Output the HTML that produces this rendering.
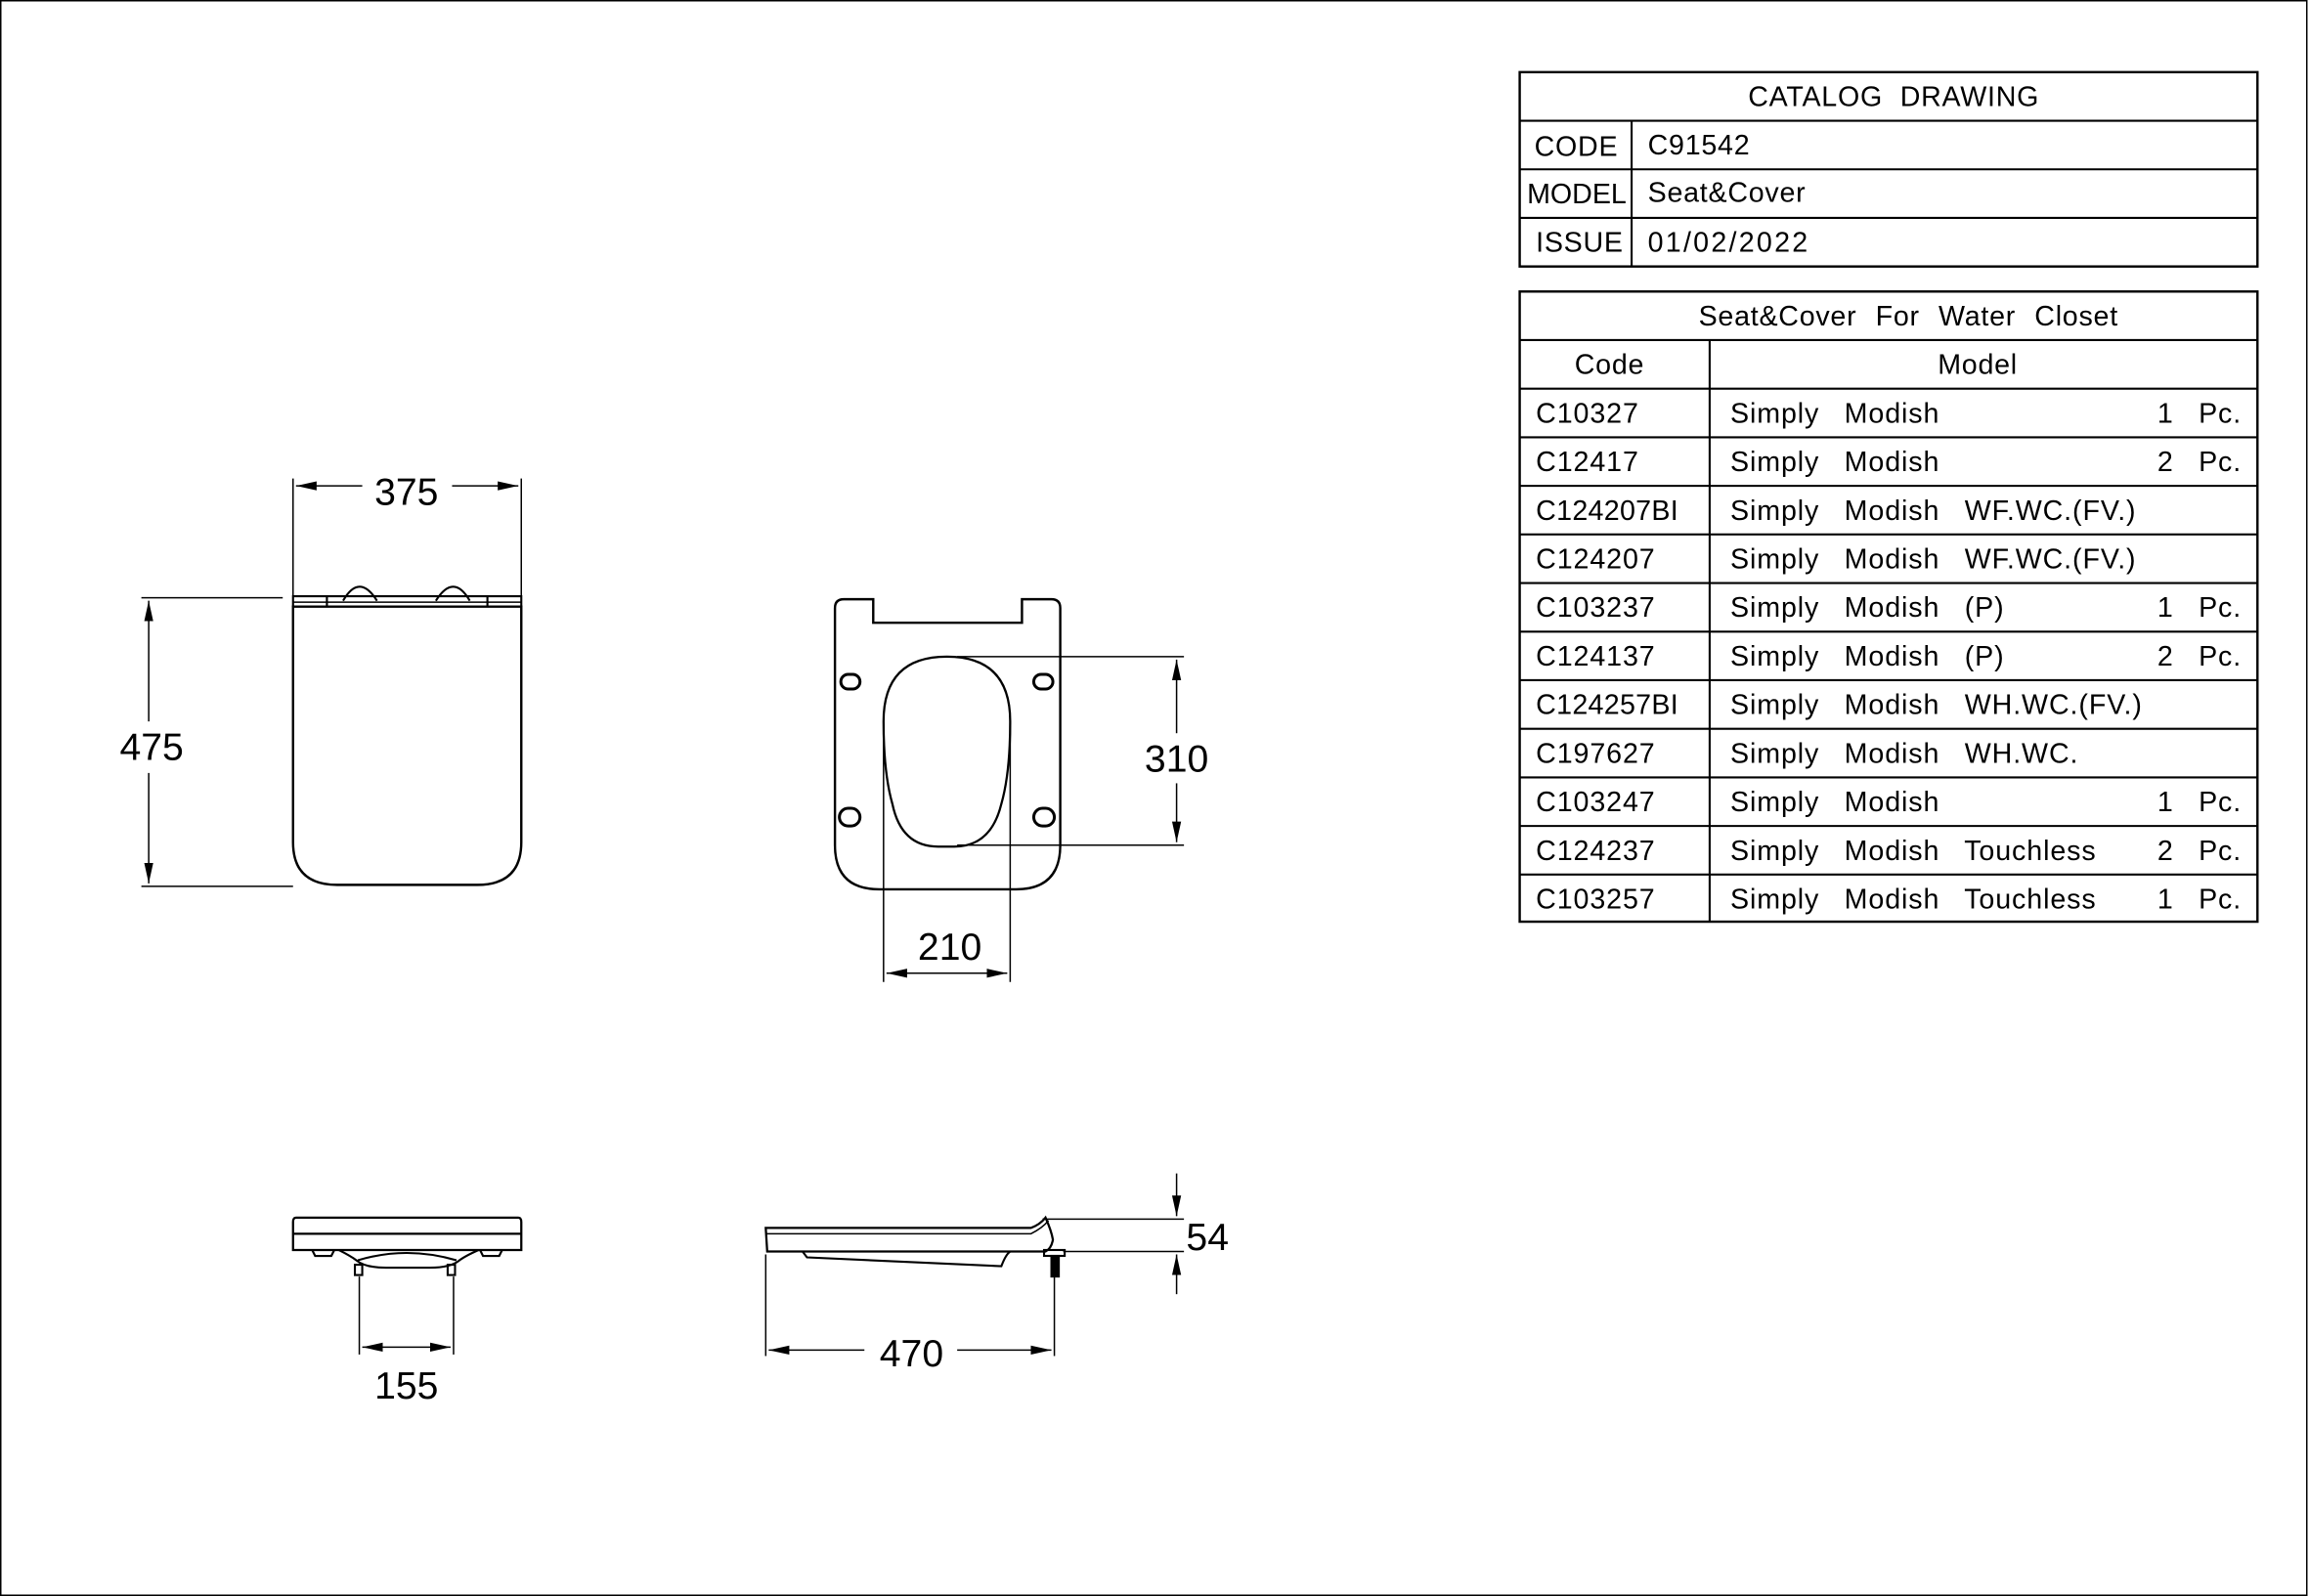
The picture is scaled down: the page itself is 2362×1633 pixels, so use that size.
<!DOCTYPE html>
<html><head><meta charset="utf-8"><style>
html,body{margin:0;padding:0;background:#fff}
svg{display:block}
text{font-family:"Liberation Sans",sans-serif;fill:#000}
</style></head><body>
<svg width="2362" height="1633" viewBox="0 0 1568 1084" preserveAspectRatio="none" xmlns="http://www.w3.org/2000/svg">
<defs>
<marker id="a" viewBox="0 0 10 10" refX="10" refY="5" markerWidth="14" markerHeight="14" markerUnits="userSpaceOnUse" orient="auto-start-reverse"><path d="M0,2.8 L10,5 L0,7.2 z" fill="#000"/></marker>
</defs>
<rect x="0.5" y="0.5" width="1566" height="1083" fill="none" stroke="#000" stroke-width="1"/>
<g stroke="#000" fill="none" stroke-width="1.4">
<rect x="1032" y="49" width="501" height="132" stroke-width="1.6"/>
<line x1="1032" y1="82" x2="1533" y2="82"/><line x1="1032" y1="115" x2="1533" y2="115"/><line x1="1032" y1="148" x2="1533" y2="148"/>
<line x1="1108" y1="82" x2="1108" y2="181"/>
<rect x="1032" y="198" width="501" height="428" stroke-width="1.6"/>
<line x1="1032" y1="231" x2="1533" y2="231"/><line x1="1032" y1="264" x2="1533" y2="264"/><line x1="1032" y1="297" x2="1533" y2="297"/>
<line x1="1032" y1="330" x2="1533" y2="330"/><line x1="1032" y1="363" x2="1533" y2="363"/><line x1="1032" y1="396" x2="1533" y2="396"/>
<line x1="1032" y1="429" x2="1533" y2="429"/><line x1="1032" y1="462" x2="1533" y2="462"/><line x1="1032" y1="495" x2="1533" y2="495"/>
<line x1="1032" y1="528" x2="1533" y2="528"/><line x1="1032" y1="561" x2="1533" y2="561"/><line x1="1032" y1="594" x2="1533" y2="594"/>
<line x1="1161" y1="231" x2="1161" y2="626"/>

<path d="M199,412 L199,572 Q199,601 229,601 L324,601 Q354,601 354,572 L354,412 Z" stroke-width="1.6"/>
<path d="M199,412 L199,405 L354,405 L354,412"/>
<path d="M199,409 L354,409" stroke-width="1"/>
<path d="M233,408 Q244,389 256,408 M296,408 Q308,389 319,408"/>
<path d="M222,405 L222,412 M331,405 L331,412"/>
<line x1="199" y1="325" x2="199" y2="405" stroke-width="1"/>
<line x1="354" y1="325" x2="354" y2="405" stroke-width="1"/>
<line x1="201" y1="330" x2="246" y2="330" marker-start="url(#a)" stroke-width="1"/>
<line x1="307" y1="330" x2="352" y2="330" marker-end="url(#a)" stroke-width="1"/>
<line x1="96" y1="406" x2="192" y2="406" stroke-width="1"/>
<line x1="96" y1="602" x2="199" y2="602" stroke-width="1"/>
<line x1="101" y1="408" x2="101" y2="490" marker-start="url(#a)" stroke-width="1"/>
<line x1="101" y1="525" x2="101" y2="600" marker-end="url(#a)" stroke-width="1"/>

<path d="M573,407 L593,407 L593,423 L694,423 L694,407 L714,407 Q720,407 720,413 L720,574 Q720,604 690,604 L597,604 Q567,604 567,574 L567,413 Q567,407 573,407 Z" stroke-width="1.6"/>
<path d="M643,446 Q686,446 686,490 Q686,525 680,546 Q673,575 648,575 L637,575 Q612,575 606,546 Q600,525 600,490 Q600,446 643,446 Z" stroke-width="1.5"/>
<rect x="571" y="458" width="13" height="10" rx="5" stroke-width="2"/>
<rect x="702" y="458" width="13" height="10" rx="5" stroke-width="2"/>
<rect x="570" y="549" width="14" height="12" rx="6" stroke-width="2"/>
<rect x="702" y="549" width="14" height="12" rx="6" stroke-width="2"/>
<line x1="650" y1="446" x2="804" y2="446" stroke-width="1"/>
<line x1="650" y1="574" x2="804" y2="574" stroke-width="1"/>
<line x1="799" y1="448" x2="799" y2="498" marker-start="url(#a)" stroke-width="1"/>
<line x1="799" y1="532" x2="799" y2="572" marker-end="url(#a)" stroke-width="1"/>
<line x1="600" y1="490" x2="600" y2="667" stroke-width="1"/>
<line x1="686" y1="490" x2="686" y2="667" stroke-width="1"/>
<line x1="602" y1="661" x2="684" y2="661" marker-start="url(#a)" marker-end="url(#a)" stroke-width="1"/>

<path d="M201,827 L352,827 Q354,827 354,830 L354,849 L199,849 L199,830 Q199,827 201,827 Z" stroke-width="1.5"/>
<line x1="199" y1="838" x2="354" y2="838" stroke-width="1.5"/>
<path d="M212,849 L214,853 L225,853 L227,849 M326,849 L328,853 L339,853 L341,849"/>
<path d="M230,849 Q238,853 242,856 Q248,861 262,861 L292,861 Q306,861 312,856 Q316,853 325,849"/>
<path d="M243,856 Q276,846 310,856"/>
<rect x="241" y="859" width="5" height="7" stroke-width="1.4"/>
<rect x="304" y="859" width="5" height="7" stroke-width="1.4"/>
<line x1="244" y1="867" x2="244" y2="920" stroke-width="1"/>
<line x1="308" y1="867" x2="308" y2="920" stroke-width="1"/>
<line x1="246" y1="915" x2="306" y2="915" marker-start="url(#a)" marker-end="url(#a)" stroke-width="1"/>

<path d="M520,834 L700,834 Q706,832 710,827 Q714,836 715,842 Q714,848 710,850 L521,850 Z" stroke-width="1.5"/>
<path d="M520,838 L700,838 Q708,834 712,829" stroke-width="1"/>
<path d="M545,850 L548,854 L680,860 Q683,852 686,850"/>
<rect x="709" y="849" width="14" height="4" stroke-width="1.4"/>
<rect x="714" y="853" width="5" height="14" fill="#000"/>
<line x1="520" y1="852" x2="520" y2="921" stroke-width="1"/>
<line x1="716" y1="867" x2="716" y2="921" stroke-width="1"/>
<line x1="522" y1="917" x2="587" y2="917" marker-start="url(#a)" stroke-width="1"/>
<line x1="650" y1="917" x2="714" y2="917" marker-end="url(#a)" stroke-width="1"/>
<line x1="708" y1="828" x2="804" y2="828" stroke-width="1"/>
<line x1="722" y1="850" x2="804" y2="850" stroke-width="1"/>
<line x1="799" y1="797" x2="799" y2="826" marker-end="url(#a)" stroke-width="1"/>
<line x1="799" y1="852" x2="799" y2="879" marker-start="url(#a)" stroke-width="1"/>
</g>

<g font-size="26">
<text x="276" y="343" text-anchor="middle">375</text>
<text x="103" y="516" text-anchor="middle">475</text>
<text x="799" y="524" text-anchor="middle">310</text>
<text x="645" y="652" text-anchor="middle">210</text>
<text x="276" y="950" text-anchor="middle">155</text>
<text x="619" y="928" text-anchor="middle">470</text>
<text x="820" y="849" text-anchor="middle">54</text>
</g>

<g font-size="19" letter-spacing="0.5">
<text x="1286" y="72" text-anchor="middle" word-spacing="6">CATALOG DRAWING</text>
<text x="1042" y="106">CODE</text><text x="1119" y="105">C91542</text>
<text x="1037" y="138" letter-spacing="0">MODEL</text><text x="1119" y="137">Seat&amp;Cover</text>
<text x="1043" y="171">ISSUE</text><text x="1119" y="171" letter-spacing="1.5">01/02/2022</text>
<text x="1296" y="221" text-anchor="middle" word-spacing="7">Seat&amp;Cover For Water Closet</text>
<text x="1093" y="254" text-anchor="middle">Code</text>
<text x="1343" y="254" text-anchor="middle">Model</text>
</g>
<g font-size="19" word-spacing="11" letter-spacing="0.6">
<text x="1043" y="287">C10327</text><text x="1175" y="287">Simply Modish</text><text x="1465" y="287">1 Pc.</text>
<text x="1043" y="320">C12417</text><text x="1175" y="320">Simply Modish</text><text x="1465" y="320">2 Pc.</text>
<text x="1043" y="353" letter-spacing="0.2">C124207BI</text><text x="1175" y="353">Simply Modish WF.WC.(FV.)</text>
<text x="1043" y="386">C124207</text><text x="1175" y="386">Simply Modish WF.WC.(FV.)</text>
<text x="1043" y="419">C103237</text><text x="1175" y="419">Simply Modish (P)</text><text x="1465" y="419">1 Pc.</text>
<text x="1043" y="452">C124137</text><text x="1175" y="452">Simply Modish (P)</text><text x="1465" y="452">2 Pc.</text>
<text x="1043" y="485" letter-spacing="0.2">C124257BI</text><text x="1175" y="485">Simply Modish WH.WC.(FV.)</text>
<text x="1043" y="518">C197627</text><text x="1175" y="518">Simply Modish WH.WC.</text>
<text x="1043" y="551">C103247</text><text x="1175" y="551">Simply Modish</text><text x="1465" y="551">1 Pc.</text>
<text x="1043" y="584">C124237</text><text x="1175" y="584">Simply Modish Touchless</text><text x="1465" y="584">2 Pc.</text>
<text x="1043" y="617">C103257</text><text x="1175" y="617">Simply Modish Touchless</text><text x="1465" y="617">1 Pc.</text>
</g>
</svg>
</body></html>
